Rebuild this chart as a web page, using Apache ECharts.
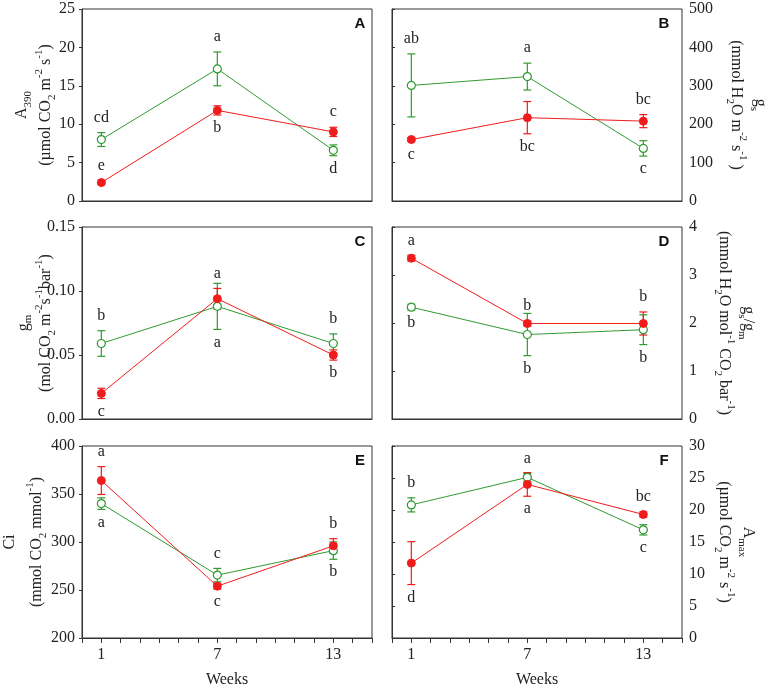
<!DOCTYPE html>
<html>
<head>
<meta charset="utf-8">
<script src="https://cdn.jsdelivr.net/npm/echarts@6/dist/echarts.min.js"></script>
<style>
  html, body { margin: 0; padding: 0; background: #fff; }
  #content { width: 767px; height: 685px; }
</style>
</head>
<body>
<div id="content"></div>
<script>
// weeks after start
var weeks = [1, 7, 13];
var weekTicks = ['1', '7', '13'];

// A: A390 (µmol CO2 m-2 s-1)
var aOpen = [8.0, 17.2, 6.6];
var aOpenErr = [0.9, 2.2, 0.7];
var aOpenLetters = ['cd', 'a', 'd'];
var aOpenSide = [1, 1, -1];
var aFilled = [2.4, 11.8, 9.0];
var aFilledErr = [0.2, 0.6, 0.6];
var aFilledLetters = ['e', 'b', 'c'];
var aFilledSide = [1, -1, 1];

// B: gs (mmol H2O m-2 s-1)
var bOpen = [301, 324, 137];
var bOpenErr = [82, 35, 20];
var bOpenLetters = ['ab', 'a', 'c'];
var bOpenSide = [1, 1, -1];
var bFilled = [160, 217, 208];
var bFilledErr = [5, 42, 17];
var bFilledLetters = ['c', 'bc', 'bc'];
var bFilledSide = [-1, -1, 1];

// C: gm (mol CO2 m-2 s-1 bar-1)
var cOpen = [0.059, 0.088, 0.059];
var cOpenErr = [0.010, 0.018, 0.0075];
var cOpenLetters = ['b', 'a', 'b'];
var cOpenSide = [1, -1, 1];
var cFilled = [0.020, 0.094, 0.050];
var cFilledErr = [0.004, 0.008, 0.004];
var cFilledLetters = ['c', 'a', 'b'];
var cFilledSide = [-1, 1, -1];

// D: gs/gm
var dOpen = [2.33, 1.76, 1.86];
var dOpenErr = [0.06, 0.44, 0.31];
var dOpenLetters = ['b', 'b', 'b'];
var dOpenSide = [-1, -1, -1];
var dFilled = [3.35, 1.99, 1.99];
var dFilledErr = [0.06, 0.05, 0.24];
var dFilledLetters = ['a', 'b', 'b'];
var dFilledSide = [1, 1, 1];

// E: Ci (mmol CO2 mmol-1)
var eOpen = [340, 265.5, 291];
var eOpenErr = [6, 7, 9];
var eOpenLetters = ['a', 'c', 'b'];
var eOpenSide = [-1, 1, -1];
var eFilled = [364, 254, 296];
var eFilledErr = [14.5, 3, 7.5];
var eFilledLetters = ['a', 'c', 'b'];
var eFilledSide = [1, -1, 1];

// F: Amax (µmol CO2 m-2 s-1)
var fOpen = [20.8, 25.1, 16.9];
var fOpenErr = [1.1, 0.6, 0.8];
var fOpenLetters = ['b', 'a', 'c'];
var fOpenSide = [1, 1, -1];
var fFilled = [11.7, 24.0, 19.3];
var fFilledErr = [3.35, 1.85, 0.4];
var fFilledLetters = ['d', 'a', 'bc'];
var fFilledSide = [-1, -1, 1];

!(function (window) {
    var myChart = echarts.init(document.getElementById('content'));

    var GREEN = '#2f9a2f';
    var RED = '#f01c1c';
    var AXIS = '#333';
    var SERIF = '"Liberation Serif", "Times New Roman", serif';

    var rich = {
        n: { fontFamily: SERIF, fontSize: 16, color: '#222', lineHeight: 24 },
        t: { fontFamily: SERIF, fontSize: 16, color: '#222', lineHeight: 30 },
        s: { fontFamily: SERIF, fontSize: 16, color: '#222', lineHeight: 20 },
        sub: { fontFamily: SERIF, fontSize: 11, color: '#222', lineHeight: 14, verticalAlign: 'bottom' },
        sup: { fontFamily: SERIF, fontSize: 11, color: '#222', lineHeight: 14, verticalAlign: 'top' }
    };

    var panels = [
        { tag: 'A', col: 0, row: 0, min: 0, max: 25, step: 5, dec: 0, gap: 24,
          name: '{n|A}{sub|390}\n{n|(µmol CO}{sub|2}{n| m}{sup|-2}{n| s}{sup|-1}{n|)}',
          open: [aOpen, aOpenErr, aOpenLetters, aOpenSide], filled: [aFilled, aFilledErr, aFilledLetters, aFilledSide] },
        { tag: 'B', col: 1, row: 0, min: 0, max: 500, step: 100, dec: 0, gap: 42,
          name: '{n|g}{sub|s}\n{n|(mmol H}{sub|2}{n|O m}{sup|-2}{n| s}{sup|-1}{n| )}',
          open: [bOpen, bOpenErr, bOpenLetters, bOpenSide], filled: [bFilled, bFilledErr, bFilledLetters, bFilledSide] },
        { tag: 'C', col: 0, row: 1, min: 0, max: 0.15, step: 0.05, dec: 2, gap: 24,
          name: '{s|g}{sub|m}\n{n|(mol CO}{sub|2}{n| m}{sup|-2}{n|s}{sup|-1}{n|bar}{sup|-1}{n|)}',
          open: [cOpen, cOpenErr, cOpenLetters, cOpenSide], filled: [cFilled, cFilledErr, cFilledLetters, cFilledSide] },
        { tag: 'D', col: 1, row: 1, min: 0, max: 4, step: 1, dec: 0, gap: 30,
          name: '{n|g}{sub|s}{n|/g}{sub|m}\n{n|(mmol H}{sub|2}{n|O mol}{sup|-1}{n| CO}{sub|2}{n| bar}{sup|-1}{n|)}',
          open: [dOpen, dOpenErr, dOpenLetters, dOpenSide], filled: [dFilled, dFilledErr, dFilledLetters, dFilledSide] },
        { tag: 'E', col: 0, row: 2, min: 200, max: 400, step: 50, dec: 0, gap: 33,
          name: '{t|Ci}\n{n|(mmol CO}{sub|2}{n| mmol}{sup|-1}{n|)}',
          open: [eOpen, eOpenErr, eOpenLetters, eOpenSide], filled: [eFilled, eFilledErr, eFilledLetters, eFilledSide] },
        { tag: 'F', col: 1, row: 2, min: 0, max: 30, step: 5, dec: 0, gap: 30,
          name: '{n|A}{sub|max}\n{n|(µmol CO}{sub|2}{n| m}{sup|-2}{n| s}{sup|-1}{n|)}',
          open: [fOpen, fOpenErr, fOpenLetters, fOpenSide], filled: [fFilled, fFilledErr, fFilledLetters, fFilledSide] }
    ];

    var lefts = [82, 392];
    var tops = [9, 227, 446];
    var W = 290, H = 192;

    function errRender(set, color) {
        return function (params, api) {
            var i = params.dataIndex;
            var x = api.value(0), y = api.value(1), e = api.value(2);
            var hi = api.coord([x, y + e]);
            var lo = api.coord([x, y - e]);
            var cap = 4;
            var st = { stroke: color, lineWidth: 1.2 };
            var up = set[3][i] > 0;
            return {
                type: 'group',
                children: [
                    { type: 'line', shape: { x1: hi[0], y1: hi[1], x2: lo[0], y2: lo[1] }, style: st },
                    { type: 'line', shape: { x1: hi[0] - cap, y1: hi[1], x2: hi[0] + cap, y2: hi[1] }, style: st },
                    { type: 'line', shape: { x1: lo[0] - cap, y1: lo[1], x2: lo[0] + cap, y2: lo[1] }, style: st },
                    { type: 'text', x: hi[0], y: up ? hi[1] - 15 : lo[1] + 13,
                      style: { text: set[2][i], textAlign: 'center', textVerticalAlign: 'middle',
                               font: '16px ' + SERIF, fill: '#222' } }
                ]
            };
        };
    }

    function pairs(vals, errs) {
        var out = [];
        for (var k = 0; k < weeks.length; k++) {
            out.push(errs ? [weeks[k], vals[k], errs[k]] : [weeks[k], vals[k]]);
        }
        return out;
    }

    var grid = [], xAxis = [], yAxis = [], series = [], graphic = [];

    panels.forEach(function (p, i) {
        var right = p.col === 1;
        var bottom = p.row === 2;
        grid.push({
            left: lefts[p.col], top: tops[p.row], width: W, height: H,
            show: true, borderColor: AXIS, borderWidth: 1, backgroundColor: 'transparent',
            outerBoundsMode: 'none'
        });
        xAxis.push({
            gridIndex: i, type: 'value', min: 0, max: 15, interval: 1,
            splitLine: { show: false },
            axisLine: { lineStyle: { color: AXIS, width: 1 } },
            axisTick: { show: bottom, length: 5, lineStyle: { color: AXIS } },
            axisLabel: {
                show: bottom, margin: 9, fontFamily: SERIF, fontSize: 16, color: '#222',
                formatter: function (v) {
                    var k = weeks.indexOf(v);
                    return k >= 0 ? weekTicks[k] : '';
                }
            },
            name: bottom ? 'Weeks' : '', nameLocation: 'middle', nameGap: 34,
            nameTextStyle: { fontFamily: SERIF, fontSize: 16, color: '#222' }
        });
        yAxis.push({
            gridIndex: i, type: 'value', position: right ? 'right' : 'left',
            min: p.min, max: p.max, interval: p.step,
            splitLine: { show: false },
            axisLine: { show: true, lineStyle: { color: AXIS, width: 1 } },
            axisTick: { show: true, length: 3, lineStyle: { color: AXIS } },
            axisLabel: {
                margin: 7, fontFamily: SERIF, fontSize: 16, color: '#222',
                formatter: function (v) { return v.toFixed(p.dec); }
            },
            name: p.name, nameLocation: 'middle', nameGap: p.gap,
            nameRotate: right ? -90 : 90, nameMoveOverlap: false,
            nameTextStyle: { rich: rich, align: 'center' }
        });

        // error bars and letters under the lines and markers
        series.push({
            type: 'custom', xAxisIndex: i, yAxisIndex: i, z: 2,
            renderItem: errRender(p.open, GREEN), data: pairs(p.open[0], p.open[1])
        });
        series.push({
            type: 'custom', xAxisIndex: i, yAxisIndex: i, z: 2,
            renderItem: errRender(p.filled, RED), data: pairs(p.filled[0], p.filled[1])
        });
        series.push({
            name: 'open', type: 'line', xAxisIndex: i, yAxisIndex: i, z: 3,
            symbol: 'circle', symbolSize: 8, showAllSymbol: true,
            lineStyle: { color: GREEN, width: 1 },
            itemStyle: { color: '#fff', borderColor: GREEN, borderWidth: 1.2 },
            data: pairs(p.open[0]), animation: false
        });
        series.push({
            name: 'filled', type: 'line', xAxisIndex: i, yAxisIndex: i, z: 4,
            symbol: 'circle', symbolSize: 8, showAllSymbol: true,
            lineStyle: { color: RED, width: 1 },
            itemStyle: { color: RED, borderColor: RED, borderWidth: 1 },
            data: pairs(p.filled[0]), animation: false
        });

        graphic.push({
            type: 'text', x: p.col === 0 ? 360 : 664, y: tops[p.row] + 15,
            style: { text: p.tag, font: 'bold 15px "Liberation Sans", Arial, sans-serif',
                     fill: '#111', textAlign: 'center', textVerticalAlign: 'middle' }
        });
    });

    myChart.setOption({
        animation: false,
        grid: grid,
        xAxis: xAxis,
        yAxis: yAxis,
        series: series,
        graphic: graphic
    });
})(window);
</script>
</body>
</html>
